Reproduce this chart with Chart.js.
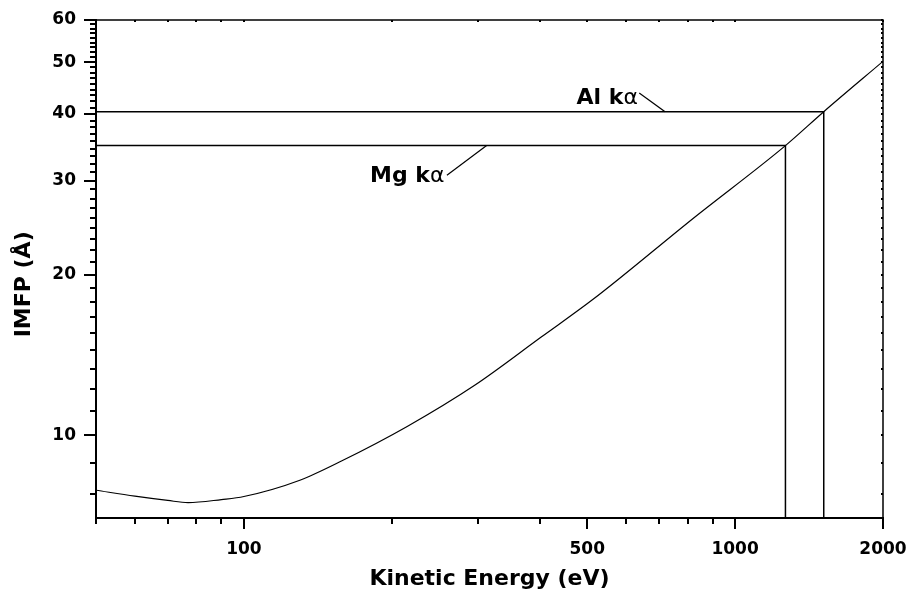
<!DOCTYPE html>
<html>
<head>
<meta charset="utf-8">
<script src="https://cdn.jsdelivr.net/npm/chart.js@4.4.1/dist/chart.umd.min.js"></script>
<style>
  html, body { margin: 0; padding: 0; background: #fff; }
</style>
</head>
<body>
<canvas id="imfpChart" width="909" height="606"></canvas>
<script>
// IMFP curve
const energy = [50, 60, 70, 77, 90, 100, 130, 158, 215, 295, 403, 513, 826, 1266, 1515, 2000];
const imfp = [7.89, 7.69, 7.55, 7.48, 7.58, 7.68, 8.24, 8.95, 10.39, 12.41, 15.28, 17.96, 25.6, 34.9, 40.4, 50.2];

// x-ray source lines (Mg, Al)
const lineNames = ['Mg k', 'Al k'];
const lineEnergy = [1266, 1515];
const lineImfp = [34.9, 40.4];
// text anchor (right end, baseline) and leader lines
const labelEnergy = [256, 634];
const labelImfp = [29.8, 41.85];
const leaderFromEnergy = [259, 638];
const leaderFromImfp = [30.7, 43.8];
const leaderToEnergy = [312, 720];

// axes
const xMin = 50, xMax = 2000;
const yMin = 7, yMax = 60;
const xMajor = [100, 500, 1000, 2000];
const xMinor = [50, 60, 70, 80, 90, 200, 300, 400, 600, 700, 800, 900];
const yMajor = [10, 20, 30, 40, 50, 60];
const yMinor = [7.78, 8.89];
for (let d = 10; d < 60; d += 10) {
  for (let j = 1; j <= 8; j++) yMinor.push(d + j * 10 / 9);
}

const FONT = "'DejaVu Sans', 'Liberation Sans', Arial, sans-serif";

const curve = energy.map((e, i) => ({ x: e, y: imfp[i] }));
const sourceSets = lineEnergy.map((e, i) => ({
  data: [{ x: xMin, y: lineImfp[i] }, { x: e, y: lineImfp[i] }, { x: e, y: yMin }],
  borderColor: '#000', borderWidth: 1.5, pointRadius: 0, tension: 0
}));
const leaderSets = leaderFromEnergy.map((e, i) => ({
  data: [{ x: e, y: leaderFromImfp[i] }, { x: leaderToEnergy[i], y: lineImfp[i] }],
  borderColor: '#000', borderWidth: 1.2, pointRadius: 0, tension: 0
}));

function tickList(major, minor) {
  return major.concat(minor).sort((a, b) => a - b).map(v => ({ value: v, major: major.includes(v) }));
}

// tick marks + top/right frame + line labels
const decor = {
  id: 'decor',
  afterDraw(chart) {
    const { ctx, chartArea: a, scales: { x, y } } = chart;
    ctx.save();
    ctx.strokeStyle = '#000';
    ctx.lineWidth = 1.5;
    ctx.beginPath();
    ctx.moveTo(a.left, a.top);
    ctx.lineTo(a.right, a.top);
    ctx.lineTo(a.right, a.bottom);
    ctx.stroke();

    ctx.lineWidth = 2;
    ctx.beginPath();
    xMajor.concat(xMinor).forEach(v => {
      const px = Math.round(x.getPixelForValue(v));
      const len = xMajor.includes(v) ? 11 : 6;
      ctx.moveTo(px, a.bottom);
      ctx.lineTo(px, a.bottom + len);
      ctx.moveTo(px, a.top);
      ctx.lineTo(px, a.top + 2);
    });
    yMajor.concat(yMinor).forEach(v => {
      const py = Math.round(y.getPixelForValue(v));
      const len = yMajor.includes(v) ? 12 : 6;
      ctx.moveTo(a.left, py);
      ctx.lineTo(a.left - len, py);
      ctx.moveTo(a.right, py);
      ctx.lineTo(a.right - 2, py);
    });
    ctx.stroke();

    ctx.fillStyle = '#000';
    ctx.textBaseline = 'alphabetic';
    ctx.textAlign = 'right';
    lineNames.forEach((name, i) => {
      const px = x.getPixelForValue(labelEnergy[i]);
      const py = y.getPixelForValue(labelImfp[i]);
      ctx.font = '22px ' + FONT;
      const wa = ctx.measureText('\u03B1').width;
      ctx.fillText('\u03B1', px, py);
      ctx.font = 'bold 22px ' + FONT;
      ctx.fillText(name, px - wa, py);
    });
    ctx.restore();
  }
};

new Chart(document.getElementById('imfpChart'), {
  type: 'line',
  data: {
    datasets: [
      { data: curve, borderColor: '#000', borderWidth: 1.2, pointRadius: 0, cubicInterpolationMode: 'monotone' },
      ...sourceSets,
      ...leaderSets
    ]
  },
  options: {
    responsive: false,
    animation: false,
    layout: { padding: { top: 20, right: 26, left: 0, bottom: 0 } },
    plugins: { legend: { display: false }, tooltip: { enabled: false } },
    scales: {
      x: {
        type: 'logarithmic',
        min: xMin,
        max: xMax,
        afterBuildTicks: s => { s.ticks = tickList(xMajor, xMinor); },
        afterFit: s => { s.height = 88; s.paddingLeft = 0; s.paddingRight = 0; },
        grid: { display: false },
        border: { display: true, color: '#000', width: 2 },
        ticks: {
          autoSkip: false, maxRotation: 0, padding: 13, color: '#000',
          font: { family: FONT, size: 17, weight: 'bold' },
          callback: v => xMajor.includes(v) ? String(v) : ''
        },
        title: {
          display: true, text: 'Kinetic Energy (eV)', color: '#000',
          font: { family: FONT, size: 22, weight: 'bold' },
          padding: { top: 0, bottom: 14 }
        }
      },
      y: {
        type: 'logarithmic',
        min: yMin,
        max: yMax,
        afterBuildTicks: s => { s.ticks = tickList(yMajor, yMinor); },
        afterFit: s => { s.width = 96; s.paddingTop = 0; s.paddingBottom = 0; },
        grid: { display: false },
        border: { display: true, color: '#000', width: 2 },
        ticks: {
          autoSkip: false, padding: 12, color: '#000',
          font: { family: FONT, size: 17, weight: 'bold' },
          callback: v => yMajor.includes(v) ? String(v) : ''
        },
        title: {
          display: true, text: 'IMFP (\u00C5)    ', color: '#000',
          font: { family: FONT, size: 22, weight: 'bold' },
          padding: { top: 11, bottom: 0 }
        }
      }
    }
  },
  plugins: [decor]
});
</script>
</body>
</html>
